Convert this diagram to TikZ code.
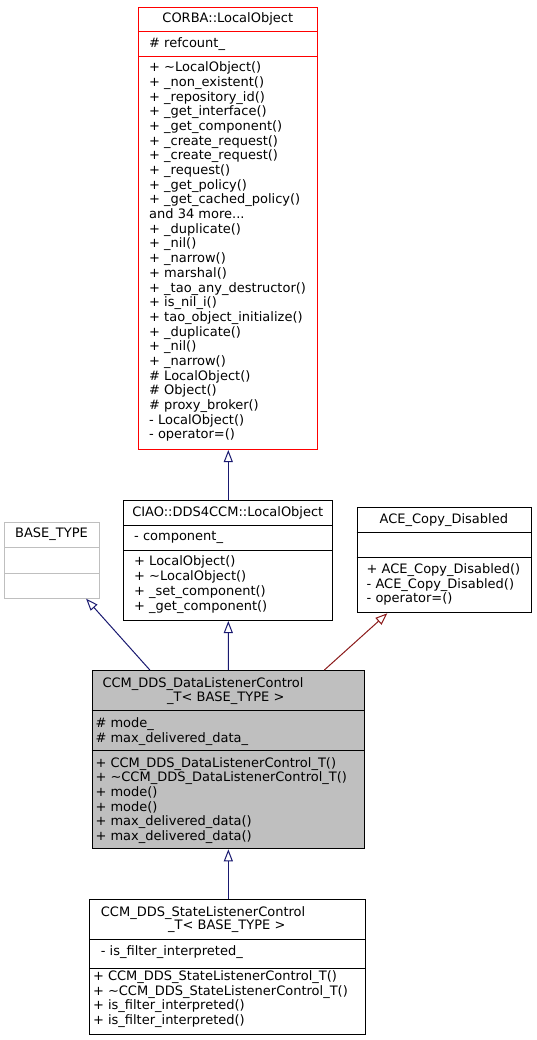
\documentclass[tikz,border=0pt]{standalone}
\usepackage{fontspec}
\setmainfont{DejaVu Sans}
\usetikzlibrary{arrows.meta,calc}
\definecolor{edgeblue}{HTML}{191970}
\definecolor{edgered}{HTML}{8B1A1A}
\definecolor{boxgray}{HTML}{BFBFBF}
\newcommand{\memfont}{\fontsize{13}{14.67}\selectfont}
\tikzset{
  cls/.style={draw,line width=1pt,inner sep=0pt,anchor=north west,fill=white},
  sep/.style={line width=1pt},
  title/.style={inner sep=0pt,anchor=base,font=\memfont},
  mem/.style={inner sep=0pt,anchor=base west,align=left,font=\memfont},
  inh/.style={-{Triangle[open,length=12pt,width=9pt]},line width=1pt,draw=edgeblue},
  inhpriv/.style={inh,draw=edgered}
}

\begin{document}
\begin{tikzpicture}[x=1pt,y=-1pt]
\useasboundingbox (0,0) rectangle (536,1040);
% CORBA::LocalObject
\node[cls,draw=red,minimum width=179pt,minimum height=442pt] (corba) at (138.3,7) {};
\draw[sep,red] (138.3,32) -- (317.3,32); \draw[sep,red] (138.3,57) -- (317.3,57);
\node[title] (corba-t) at (227.8,23) {CORBA::LocalObject};
\node[mem] (corba-a) at (149,48) {\# refcount\_};
\node[mem] (corba-m) at (149,438.7) {+ \textasciitilde LocalObject()\\+ \_non\_existent()\\+ \_repository\_id()\\+ \_get\_interface()\\+ \_get\_component()\\+ \_create\_request()\\+ \_create\_request()\\+ \_request()\\+ \_get\_policy()\\+ \_get\_cached\_policy()\\and 34 more...\\+ \_duplicate()\\+ \_nil()\\+ \_narrow()\\+ marshal()\\+ \_tao\_any\_destructor()\\+ is\_nil\_i()\\+ tao\_object\_initialize()\\+ \_duplicate()\\+ \_nil()\\+ \_narrow()\\\# LocalObject()\\\# Object()\\\# proxy\_broker()\\- LocalObject()\\- operator=()};
% CIAO::DDS4CCM::LocalObject
\node[cls,minimum width=209pt,minimum height=120pt] (ciao) at (123.3,500) {};
\draw[sep] (123.3,525) -- (332.3,525); \draw[sep] (123.3,550.7) -- (332.3,550.7);
\node[title] (ciao-t) at (227.8,516.5) {CIAO::DDS4CCM::LocalObject};
\node[mem] (ciao-a) at (134,540.5) {- component\_};
\node[mem] (ciao-m) at (134,610) {+ LocalObject()\\+ \textasciitilde LocalObject()\\+ \_set\_component()\\+ \_get\_component()};
% BASE_TYPE
\node[cls,draw=boxgray,minimum width=94.7pt,minimum height=75.7pt] (basetype) at (4.4,522) {};
\draw[sep,boxgray] (4.4,547.3) -- (99.1,547.3); \draw[sep,boxgray] (4.4,573.3) -- (99.1,573.3);
\node[title] (basetype-t) at (51.5,537.8) {BASE\_TYPE};
% ACE_Copy_Disabled
\node[cls,minimum width=174.4pt,minimum height=105pt] (ace) at (356.6,507.3) {};
\draw[sep] (356.6,532.3) -- (531,532.3); \draw[sep] (356.6,557.7) -- (531,557.7);
\node[title] (ace-t) at (443.8,523) {ACE\_Copy\_Disabled};
\node[mem] (ace-m) at (366.5,602.8) {+ ACE\_Copy\_Disabled()\\- ACE\_Copy\_Disabled()\\- operator=()};
% CCM_DDS_DataListenerControl_T
\node[cls,fill=boxgray,minimum width=272.3pt,minimum height=178.3pt] (dlc) at (91.7,670) {};
\draw[sep] (91.7,710.7) -- (364,710.7); \draw[sep] (91.7,750.7) -- (364,750.7);
\node[mem] (dlc-t1) at (102.3,687) {CCM\_DDS\_DataListenerControl};
\node[mem] (dlc-t2) at (167,701.5) {\_T< BASE\_TYPE >};
\node[mem] (dlc-a) at (95.3,742.2) {\# mode\_\\\# max\_delivered\_data\_};
\node[mem] (dlc-m) at (95.3,840.4) {+ CCM\_DDS\_DataListenerControl\_T()\\+ \textasciitilde CCM\_DDS\_DataListenerControl\_T()\\+ mode()\\+ mode()\\+ max\_delivered\_data()\\+ max\_delivered\_data()};
% CCM_DDS_StateListenerControl_T
\node[cls,minimum width=275.7pt,minimum height=134.7pt] (slc) at (89.3,899.3) {};
\draw[sep] (89.3,939) -- (365,939); \draw[sep] (89.3,968.3) -- (365,968.3);
\node[mem] (slc-t1) at (100.7,916) {CCM\_DDS\_StateListenerControl};
\node[mem] (slc-t2) at (168,929.5) {\_T< BASE\_TYPE >};
\node[mem] (slc-a) at (100.7,955.5) {- is\_filter\_interpreted\_};
\node[mem] (slc-m) at (92.8,1024.5) {+ CCM\_DDS\_StateListenerControl\_T()\\+ \textasciitilde CCM\_DDS\_StateListenerControl\_T()\\+ is\_filter\_interpreted()\\+ is\_filter\_interpreted()};
% inheritance
\draw[inh] (ciao.north) -- (corba.south);
\draw[inh] (dlc.north) -- (ciao.south);
\draw[inh] ($(dlc.north)+(-78.5,0)$) -- ($(basetype.south east)+(-14,0)$);
\draw[inhpriv] ($(dlc.north)+(96,0)$) -- ($(ace.south west)+(30.7,0)$);
\draw[inh] (slc.north -| dlc.south) -- (dlc.south);
\end{tikzpicture}
\end{document}
